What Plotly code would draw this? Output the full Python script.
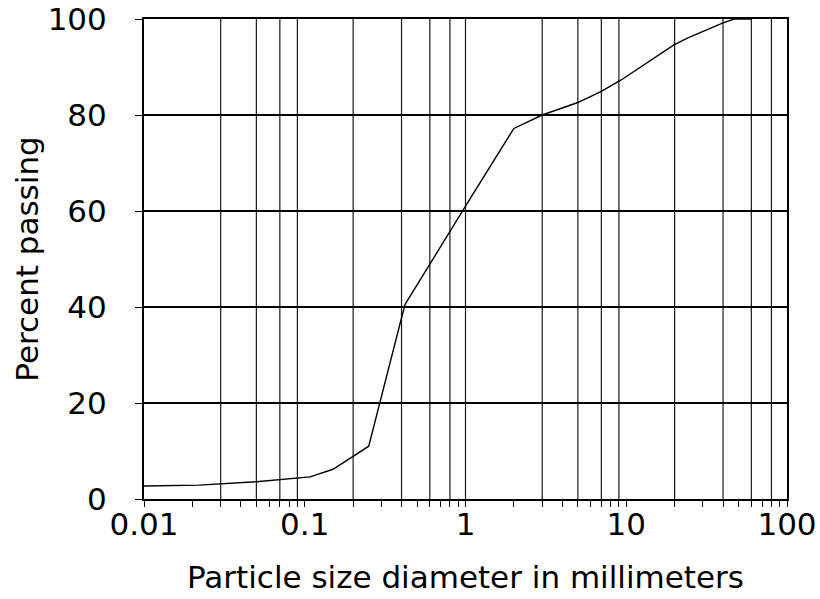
import plotly.graph_objects as go

# Particle-size distribution
size_mm = [0.01, 0.022, 0.05, 0.075, 0.108, 0.15, 0.2, 0.25, 0.42, 0.6, 1.0, 2.0, 3.0, 5.0, 7.0, 9.3, 13.7, 19.8, 24, 40, 47, 60]
percent_passing = [2.7, 2.9, 3.6, 4.1, 4.6, 6.2, 9.0, 11.0, 40.5, 49.0, 61.0, 77.2, 80.0, 82.6, 84.9, 87.3, 91.1, 94.6, 96.0, 99.2, 100, 100]

# Axis ticks / grid values
x_major_vals = [0.01, 0.1, 1, 10, 100]
x_major_text = ["0.01", "0.1", "1", "10", "100"]
x_minor_ticks = [m * d for d in [0.01, 0.1, 1, 10] for m in range(2, 10)]
x_grid_vals = [0.03, 0.05, 0.07, 0.09, 0.2, 0.4, 0.6, 0.8, 1, 3, 5, 7, 9, 20, 40, 60, 80]
y_tick_vals = [0, 20, 40, 60, 80, 100]

FONT = "DejaVu Sans"

fig = go.Figure()

# vertical grid lines at chart's grid values
for gv in x_grid_vals:
    fig.add_shape(type="line", xref="x", yref="y", x0=gv, x1=gv, y0=0, y1=100,
                  line=dict(color="#1a1a1a", width=1.2), layer="below")

fig.add_trace(go.Scatter(
    x=size_mm, y=percent_passing, mode="lines",
    line=dict(color="black", width=1.4), showlegend=False, hoverinfo="skip"))

# x ticks (major with labels + minor unlabeled)
all_x_ticks = x_major_vals + x_minor_ticks
all_x_text = x_major_text + [""] * len(x_minor_ticks)

fig.update_layout(
    width=820, height=599,
    margin=dict(l=143.5, r=33, t=19, b=99.5),
    paper_bgcolor="white", plot_bgcolor="white",
    font=dict(family=FONT, size=31, color="black"),
    xaxis=dict(
        type="log", range=[-2, 2], automargin=False,
        tickvals=all_x_ticks, ticktext=all_x_text,
        ticks="outside", ticklen=6, tickwidth=1.2, tickcolor="black",
        showgrid=False, zeroline=False,
        showline=True, linecolor="black", linewidth=2, mirror=True,
        title=dict(text="Particle size diameter in millimeters", standoff=25,
                   font=dict(family=FONT, size=31)),
        tickfont=dict(family=FONT, size=31),
        ticklabelstandoff=-9,
    ),
    yaxis=dict(
        range=[0, 100], tickvals=y_tick_vals, automargin=False,
        ticks="outside", ticklen=7, tickwidth=1.2, tickcolor="black",
        showgrid=True, gridcolor="black", gridwidth=1.8,
        zeroline=False,
        showline=True, linecolor="black", linewidth=2, mirror=True,
        title=dict(text="Percent passing", standoff=0,
                   font=dict(family=FONT, size=31)),
        tickfont=dict(family=FONT, size=31),
        ticklabelstandoff=22,
    ),
)

fig.write_html("out.html")
